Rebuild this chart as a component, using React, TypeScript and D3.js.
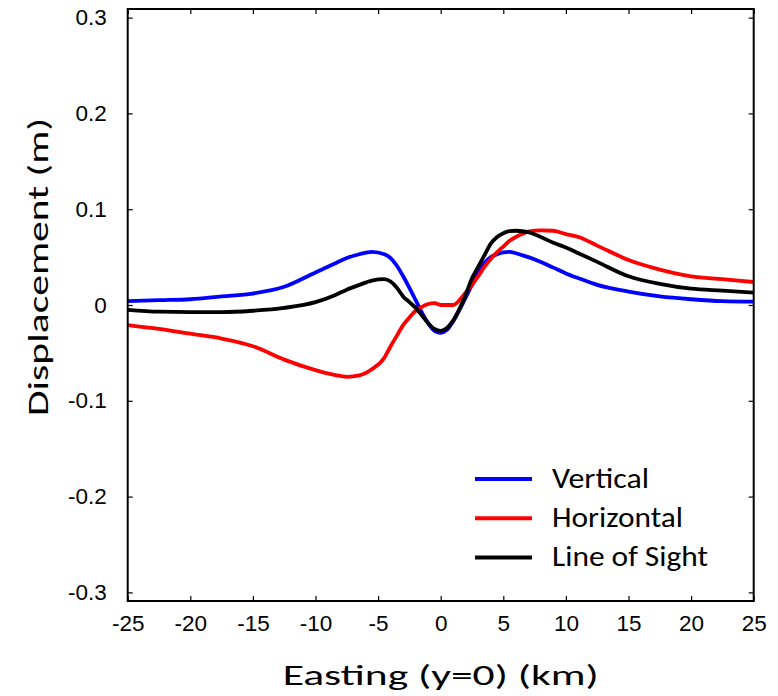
import { useEffect, useRef } from 'react'
import * as d3 from 'd3'

// Easting positions (km) shared by all three profiles
const easting = [-25, -22.5, -20, -17.5, -15, -12.5, -10, -8.5, -7.5, -6.5, -5.5, -4.5, -4, -3.5, -3, -2.5, -2, -1.5, -1, -0.5, 0, 0.5, 1, 1.5, 2, 2.5, 3, 3.5, 4, 4.5, 5, 5.5, 6, 6.5, 7, 8, 9, 10, 11, 12.5, 15, 17.5, 20, 22.5, 25]

const vertical = [0.004, 0.005, 0.006, 0.009, 0.012, 0.019, 0.034, 0.043, 0.049, 0.053, 0.0555, 0.053, 0.049, 0.041, 0.030, 0.018, 0.005, -0.008, -0.019, -0.027, -0.029, -0.026, -0.017, -0.005, 0.008, 0.021, 0.033, 0.044, 0.050, 0.053, 0.055, 0.0555, 0.054, 0.052, 0.050, 0.045, 0.039, 0.033, 0.028, 0.021, 0.014, 0.009, 0.006, 0.004, 0.0035]

const horizontal = [-0.021, -0.025, -0.030, -0.035, -0.043, -0.057, -0.068, -0.073, -0.075, -0.0735, -0.067, -0.055, -0.043, -0.032, -0.021, -0.013, -0.006, -0.002, 0.001, 0.002, 0.000, 0.000, 0.000, 0.005, 0.013, 0.021, 0.030, 0.040, 0.048, 0.055, 0.061, 0.067, 0.071, 0.074, 0.0765, 0.078, 0.0775, 0.074, 0.071, 0.062, 0.047, 0.037, 0.030, 0.027, 0.024]

const lineOfSight = [-0.005, -0.007, -0.0075, -0.0075, -0.006, -0.003, 0.003, 0.010, 0.016, 0.021, 0.0255, 0.027, 0.0245, 0.018, 0.009, 0.003, -0.003, -0.011, -0.019, -0.025, -0.027, -0.024, -0.016, -0.004, 0.011, 0.028, 0.040, 0.052, 0.064, 0.071, 0.075, 0.077, 0.0775, 0.077, 0.076, 0.071, 0.065, 0.060, 0.054, 0.045, 0.030, 0.022, 0.017, 0.015, 0.013]

const xTicks = [-25, -20, -15, -10, -5, 0, 5, 10, 15, 20, 25]
const yTicks = [-0.3, -0.2, -0.1, 0, 0.1, 0.2, 0.3]

const seriesNames = ['Vertical', 'Horizontal', 'Line of Sight']
const seriesColors = ['#0000ff', '#ff0000', '#000000']
const legendWidths = [97, 131, 156]

const titleFont = 'Carlito, Calibri, Lato, sans-serif'
const tickFont = '"Liberation Sans", Arial, sans-serif'

// plain hyphen for negatives, like the original
const fmtX = d => String(d)
const fmtY = d => (d === 0 ? '0' : (d < 0 ? '-' : '') + Math.abs(d).toFixed(1))

export default function App() {
  const svgRef = useRef(null)
  const width = 778
  const height = 696

  useEffect(() => {
    const svg = d3.select(svgRef.current)
    svg.selectAll('*').remove()

    const margin = { top: 9, right: 24.3, bottom: 95, left: 127.7 }
    const innerWidth = width - margin.left - margin.right
    const innerHeight = height - margin.top - margin.bottom

    const x = d3.scaleLinear().domain([-25, 25]).range([0, innerWidth])
    const y = d3.scaleLinear().domain([-0.309, 0.309]).range([innerHeight, 0])

    const g = svg.append('g').attr('transform', `translate(${margin.left},${margin.top})`)

    // curves
    const allSeries = [vertical, horizontal, lineOfSight]
    const line = d3.line<number>()
      .x((_, i) => x(easting[i]))
      .y(d => y(d))
      .curve(d3.curveMonotoneX)

    allSeries.forEach((s, i) => {
      g.append('path')
        .datum(s)
        .attr('fill', 'none')
        .attr('stroke', seriesColors[i])
        .attr('stroke-width', 3.8)
        .attr('stroke-linejoin', 'round')
        .attr('d', line)
    })

    // axes (inside ticks on all sides)
    const styleAxis = (sel) => {
      sel.select('.domain').remove()
      sel.selectAll('line').attr('stroke', '#000').attr('stroke-width', 1.2)
      sel.selectAll('text').attr('font-family', tickFont).attr('font-size', 22.5).attr('fill', '#000')
    }

    g.append('g')
      .attr('transform', `translate(0,${innerHeight})`)
      .call(d3.axisBottom(x).tickValues(xTicks).tickSizeInner(-5).tickSizeOuter(0).tickPadding(14).tickFormat(fmtX))
      .call(styleAxis)

    g.append('g')
      .call(d3.axisTop(x).tickValues(xTicks).tickSizeInner(-5).tickSizeOuter(0).tickFormat(() => ''))
      .call(styleAxis)

    g.append('g')
      .call(d3.axisLeft(y).tickValues(yTicks).tickSizeInner(-5).tickSizeOuter(0).tickPadding(21).tickFormat(fmtY))
      .call(styleAxis)

    g.append('g')
      .attr('transform', `translate(${innerWidth},0)`)
      .call(d3.axisRight(y).tickValues(yTicks).tickSizeInner(-5).tickSizeOuter(0).tickFormat(() => ''))
      .call(styleAxis)

    // frame
    g.append('rect')
      .attr('width', innerWidth)
      .attr('height', innerHeight)
      .attr('fill', 'none')
      .attr('stroke', '#000')
      .attr('stroke-width', 2)

    // legend
    const legend = g.append('g').attr('transform', `translate(${475 - margin.left},${479 - margin.top})`)
    seriesNames.forEach((name, i) => {
      legend.append('line')
        .attr('x1', 0).attr('x2', 57)
        .attr('y1', i * 39.3).attr('y2', i * 39.3)
        .attr('stroke', seriesColors[i])
        .attr('stroke-width', 4)
      legend.append('text')
        .attr('x', 77)
        .attr('y', i * 39.3 + 8.5)
        .attr('font-family', titleFont)
        .attr('font-size', 28)
        .attr('textLength', legendWidths[i])
        .attr('lengthAdjust', 'spacingAndGlyphs')
        .attr('fill', '#000')
        .text(name)
    })

    // axis titles
    svg.append('text')
      .attr('x', margin.left + innerWidth / 2)
      .attr('y', 685)
      .attr('text-anchor', 'middle')
      .attr('font-family', titleFont)
      .attr('font-size', 28)
      .attr('textLength', 316)
      .attr('lengthAdjust', 'spacingAndGlyphs')
      .attr('fill', '#000')
      .text('Easting (y=0) (km)')

    svg.append('text')
      .attr('transform', 'translate(48,267) rotate(-90)')
      .attr('text-anchor', 'middle')
      .attr('font-family', titleFont)
      .attr('font-size', 28)
      .attr('textLength', 298)
      .attr('lengthAdjust', 'spacingAndGlyphs')
      .attr('fill', '#000')
      .text('Displacement (m)')
  }, [])

  return (
    <div style={{ position: 'absolute', left: 0, top: 0, width, height, background: '#fff' }}>
      <svg ref={svgRef} width={width} height={height} style={{ display: 'block' }}></svg>
    </div>
  )
}
